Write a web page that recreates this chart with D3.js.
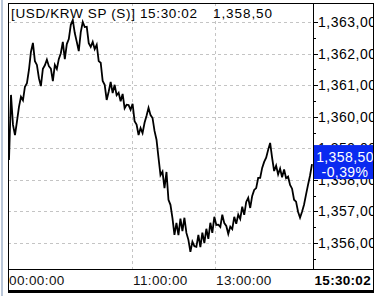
<!DOCTYPE html>
<html>
<head>
<meta charset="utf-8">
<script src="https://cdn.jsdelivr.net/npm/d3@7.9.0/dist/d3.min.js"></script>
<style>
  html, body { margin: 0; padding: 0; background: #fff; }
  svg { display: block; font-family: "Liberation Sans", Arial, sans-serif; }
</style>
</head>
<body>
<svg id="chart" width="378" height="296"></svg>
<script>
// USD/KRW spot, intraday closes (one sample ~ every few minutes)
const prices = [
  1358.63, 1360.69, 1359.74, 1359.42, 1359.85, 1360.31, 1360.63, 1360.52, 1360.95, 1361.06,
  1361.48, 1362.05, 1362.34, 1361.76, 1361.64, 1361.22, 1360.97, 1361.52, 1361.63, 1361.81,
  1361.60, 1361.52, 1361.13, 1361.64, 1361.51, 1361.83, 1362.01, 1362.37, 1361.82, 1362.30,
  1362.46, 1362.91, 1363.06, 1362.65, 1362.37, 1362.08, 1362.68, 1363.00, 1362.84, 1362.85,
  1362.33, 1362.21, 1362.37, 1362.14, 1362.28, 1361.76, 1361.71, 1361.13, 1361.01, 1360.53,
  1360.79, 1361.10, 1360.75, 1361.01, 1360.68, 1360.76, 1360.49, 1360.72, 1360.27, 1360.38,
  1360.37, 1360.22, 1360.41, 1359.86, 1359.75, 1359.42, 1359.64, 1359.48, 1359.81, 1360.03,
  1360.28, 1360.05, 1359.96, 1359.55, 1359.27, 1358.70, 1358.15, 1358.26, 1357.74, 1358.25,
  1357.37, 1357.21, 1356.79, 1356.26, 1356.64, 1356.25, 1356.77, 1356.38, 1356.80, 1356.32,
  1356.10, 1355.72, 1356.04, 1355.90, 1355.88, 1356.26, 1355.87, 1356.33, 1356.00, 1356.45,
  1356.13, 1356.64, 1356.32, 1356.83, 1356.57, 1356.58, 1356.51, 1356.90, 1356.63, 1356.54,
  1356.29, 1356.52, 1356.44, 1356.83, 1356.61, 1356.90, 1356.76, 1357.15, 1356.89, 1357.30,
  1357.43, 1357.11, 1357.49, 1357.68, 1357.74, 1358.06, 1358.06, 1358.38, 1358.57, 1358.70,
  1358.95, 1359.17, 1358.70, 1358.28, 1358.45, 1358.17, 1358.36, 1358.08, 1358.33, 1358.05,
  1358.10, 1357.84, 1357.72, 1357.37, 1357.31, 1356.99, 1356.80, 1356.99, 1357.21, 1357.53,
  1357.84, 1358.13, 1358.50
];

// y axis levels
const priceTicks  = [1356, 1357, 1358, 1359, 1360, 1361, 1362, 1363];
const minorTicks  = [1355.5, 1356.5, 1357.5, 1358.5, 1359.5, 1360.5, 1361.5, 1362.5];

// time axis: sample index -> label
const timeTickIdx    = [0, 62, 104];
const timeTickLabels = ['00:00:00', '11:00:00', '13:00:00'];
const lastTime       = '15:30:02';

const lastPriceText = '1,358,50';
const changeText    = '-0,39%';
const titleText     = '[USD/KRW SP (S)] 15:30:02';

const fmt = v => d3.format(',')(Math.floor(v)) + ',' + d3.format('02d')(Math.round((v % 1) * 100));

const svg = d3.select('#chart');

// frame geometry
const L = 8, T = 3, PR = 313, PB = 269, R = 373, B = 291;

const x = d3.scaleLinear().domain([0, prices.length - 1]).range([L + 1, PR - 1]);
const y = d3.scaleLinear().domain([1356, 1363]).range([243, 22]);

// left light strip
svg.append('rect').attr('x', 1).attr('y', 0).attr('width', 2).attr('height', 296).attr('fill', '#b9c6d8');

svg.append('clipPath').attr('id', 'plotClip')
  .append('rect').attr('x', L).attr('y', T).attr('width', PR - L).attr('height', PB - T);
svg.append('clipPath').attr('id', 'axisClip')
  .append('rect').attr('x', PR).attr('y', T).attr('width', R - PR).attr('height', PB - T);

// grid
const grid = svg.append('g').attr('stroke', '#c4c4c4').attr('stroke-dasharray', '3,3').attr('shape-rendering', 'crispEdges');
grid.selectAll('line.h')
  .data(priceTicks)
  .enter().append('line')
    .attr('class', 'h')
    .attr('x1', L).attr('x2', PR)
    .attr('y1', d => Math.round(y(d)) + 0.5).attr('y2', d => Math.round(y(d)) + 0.5);
grid.selectAll('line.v')
  .data(timeTickIdx.slice(1))
  .enter().append('line')
    .attr('class', 'v')
    .attr('y1', T).attr('y2', PB)
    .attr('x1', d => Math.round(x(d)) - 0.5).attr('x2', d => Math.round(x(d)) - 0.5);

// price line
const line = d3.line().x((d, i) => x(i)).y(d => y(d));
svg.append('path')
  .datum(prices)
  .attr('clip-path', 'url(#plotClip)')
  .attr('fill', 'none')
  .attr('stroke', '#000')
  .attr('stroke-width', 1.8)
  .attr('stroke-linejoin', 'miter')
  .attr('d', line);

// right axis
const axisG = svg.append('g').attr('clip-path', 'url(#axisClip)');
axisG.selectAll('line.maj')
  .data(priceTicks)
  .enter().append('line')
    .attr('class', 'maj')
    .attr('stroke', '#000').attr('shape-rendering', 'crispEdges')
    .attr('x1', PR).attr('x2', PR + 5)
    .attr('y1', d => Math.round(y(d)) + 0.5).attr('y2', d => Math.round(y(d)) + 0.5);
axisG.selectAll('line.min')
  .data(minorTicks)
  .enter().append('line')
    .attr('class', 'min')
    .attr('stroke', '#000').attr('shape-rendering', 'crispEdges')
    .attr('x1', PR).attr('x2', PR + 3)
    .attr('y1', d => Math.round(y(d)) + 0.5).attr('y2', d => Math.round(y(d)) + 0.5);
axisG.selectAll('text')
  .data(priceTicks)
  .enter().append('text')
    .attr('x', PR + 5)
    .attr('y', d => y(d) + 5)
    .attr('font-size', 14)
    .attr('letter-spacing', 0.5)
    .attr('fill', '#000')
    .text(d => fmt(d));

// current price box
const last = prices[prices.length - 1];
const boxG = svg.append('g').attr('clip-path', 'url(#axisClip)');
boxG.append('rect')
  .attr('x', PR + 1).attr('y', y(last) - 19)
  .attr('width', R - PR).attr('height', 34)
  .attr('fill', '#0a2af0');
boxG.append('text')
  .attr('x', (PR + R) / 2 + 2).attr('y', y(last) - 2)
  .attr('text-anchor', 'middle').attr('font-size', 14).attr('letter-spacing', 0.4)
  .attr('fill', '#fff').text(lastPriceText);
boxG.append('text')
  .attr('x', (PR + R) / 2 + 2).attr('y', y(last) + 13)
  .attr('text-anchor', 'middle').attr('font-size', 14).attr('letter-spacing', 0.4)
  .attr('fill', '#fff').text(changeText);

// time axis labels
svg.selectAll('text.t')
  .data(timeTickIdx)
  .enter().append('text')
    .attr('class', 't')
    .attr('x', d => Math.round(x(d)))
    .attr('y', 285)
    .attr('font-size', 13.5)
    .attr('letter-spacing', 0.4)
    .attr('fill', '#111')
    .text((d, i) => timeTickLabels[i]);
svg.append('text')
  .attr('x', R - 2).attr('y', 285)
  .attr('text-anchor', 'end')
  .attr('font-size', 13.5).attr('font-weight', 'bold').attr('letter-spacing', 0.3)
  .text(lastTime);

// title
svg.append('text')
  .attr('x', 11).attr('y', 18)
  .attr('font-size', 13.5)
  .attr('textLength', 186).attr('lengthAdjust', 'spacing')
  .text(titleText);
svg.append('text')
  .attr('x', 213).attr('y', 18)
  .attr('font-size', 13.5)
  .attr('textLength', 59).attr('lengthAdjust', 'spacing')
  .text(lastPriceText);

// frame lines
const frame = svg.append('g').attr('stroke', '#000').attr('shape-rendering', 'crispEdges').attr('fill', 'none');
frame.append('rect').attr('x', L + 0.5).attr('y', T + 0.5).attr('width', R - L).attr('height', B - T - 1);
frame.append('line').attr('x1', L).attr('x2', R + 1).attr('y1', B + 0.5).attr('y2', B + 0.5).attr('stroke-width', 2);
frame.append('line').attr('x1', L).attr('x2', R).attr('y1', PB + 0.5).attr('y2', PB + 0.5);
frame.append('line').attr('x1', PR + 0.5).attr('x2', PR + 0.5).attr('y1', T).attr('y2', PB);
</script>
</body>
</html>
